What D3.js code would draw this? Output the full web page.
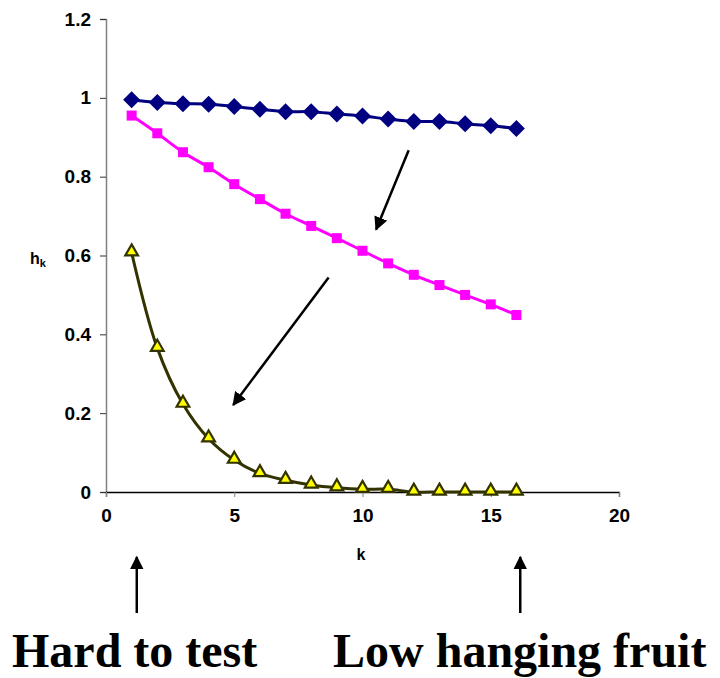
<!DOCTYPE html>
<html>
<head>
<meta charset="utf-8">
<script src="https://cdn.jsdelivr.net/npm/d3@7"></script>
<style>
  html, body { margin: 0; padding: 0; background: #fff; }
  svg { display: block; }
</style>
</head>
<body>
<script>
const kValues = [1,2,3,4,5,6,7,8,9,10,11,12,13,14,15,16];
const seriesBlue = [0.995,0.988,0.985,0.984,0.978,0.971,0.965,0.965,0.959,0.954,0.946,0.940,0.940,0.934,0.929,0.922];
const seriesPink = [0.955,0.910,0.862,0.824,0.781,0.743,0.706,0.675,0.644,0.612,0.580,0.551,0.525,0.500,0.476,0.449];
const seriesYellow = [0.607,0.365,0.223,0.135,0.081,0.047,0.030,0.018,0.011,0.007,0.007,0.000,0.000,0.000,0.000,0.000];
const xTicks = [0,5,10,15,20];
const yTicks = [0,0.2,0.4,0.6,0.8,1,1.2];
const yTickLabels = ["0","0.2","0.4","0.6","0.8","1","1.2"];
const xLabel = "k";
const yLabel = "h";
const yLabelSub = "k";
const bottomLeftText = "Hard to test";
const bottomRightText = "Low hanging fruit";
// annotation arrows in data coordinates [k, h]
const arrowsInPlot = [
  {from:[11.8, 0.867], to:[10.53, 0.666]},
  {from:[8.68, 0.544], to:[4.96, 0.221]}
];
const bottomArrowsK = [1.2, 16.15];

const W = 720, H = 678;
const svg = d3.select("body").append("svg").attr("width", W).attr("height", H);

const x = d3.scaleLinear().domain([0,20]).range([106,619]);
const y = d3.scaleLinear().domain([0,1.2]).range([492,19]);

const tickFont = "Arial, 'Liberation Sans', sans-serif";

// defs: arrow marker
const defs = svg.append("defs");
defs.append("marker").attr("id","ah").attr("viewBox","0 0 10 10")
  .attr("refX",9).attr("refY",5).attr("markerWidth",5.5).attr("markerHeight",5.5)
  .attr("markerUnits","strokeWidth").attr("orient","auto")
  .append("path").attr("d","M0,0 L10,5 L0,10 Z").attr("fill","#000");

// Y axis
const yAxis = d3.axisLeft(y).tickValues(yTicks).tickSize(6).tickFormat((d,i)=>yTickLabels[i]);
const gy = svg.append("g").attr("transform",`translate(${x(0)},0)`).call(yAxis);
gy.select(".domain").attr("stroke","#808080").attr("stroke-width",1.5);
gy.selectAll(".tick line").attr("stroke","#333");
gy.selectAll(".tick text").attr("font-family",tickFont).attr("font-weight","bold")
  .attr("font-size",19).attr("fill","#000").attr("x",-15);

// X axis
const xAxis = d3.axisBottom(x).tickValues(xTicks).tickSize(5);
const gx = svg.append("g").attr("transform",`translate(0,${y(0)})`).call(xAxis);
gx.select(".domain").attr("stroke","#000").attr("stroke-width",1.3);
gx.selectAll(".tick line").attr("stroke","#808080");
gx.selectAll(".tick text").attr("font-family",tickFont).attr("font-weight","bold")
  .attr("font-size",19).attr("fill","#000").attr("y",17);

// axis titles
svg.append("text").attr("x",361).attr("y",560).attr("text-anchor","middle")
  .attr("font-family",tickFont).attr("font-weight","bold").attr("font-size",16).text(xLabel);
const yl = svg.append("text").attr("x",30).attr("y",264)
  .attr("font-family",tickFont).attr("font-weight","bold").attr("font-size",16);
yl.append("tspan").text(yLabel);
yl.append("tspan").attr("font-size",11).attr("dy",3).text(yLabelSub);

// lines
const line = d3.line().curve(d3.curveCatmullRom.alpha(0.5)).x((d,i)=>x(kValues[i])).y(d=>y(d));

svg.append("path").datum(seriesBlue).attr("d",line).attr("fill","none")
  .attr("stroke","#000080").attr("stroke-width",3);
svg.append("path").datum(seriesPink).attr("d",line).attr("fill","none")
  .attr("stroke","#FF00FF").attr("stroke-width",3);
svg.append("path").datum(seriesYellow).attr("d",line).attr("fill","none")
  .attr("stroke","#333300").attr("stroke-width",3);

// markers
svg.append("g").selectAll("path").data(seriesBlue).join("path")
  .attr("d","M0,-8.5 L8.5,0 L0,8.5 L-8.5,0 Z")
  .attr("transform",(d,i)=>`translate(${x(kValues[i])},${y(d)})`)
  .attr("fill","#000080");
svg.append("g").selectAll("rect").data(seriesPink).join("rect")
  .attr("x",(d,i)=>x(kValues[i])-5).attr("y",d=>y(d)-5)
  .attr("width",10).attr("height",10).attr("fill","#FF00FF");
const tri = d3.symbol().type(d3.symbolTriangle).size(70);
svg.append("g").selectAll("path").data(seriesYellow).join("path")
  .attr("d",tri)
  .attr("transform",(d,i)=>`translate(${x(kValues[i])},${y(d)-1})`)
  .attr("fill","#FFFF00").attr("stroke","#333300").attr("stroke-width",2.2);

// arrows in plot
svg.append("g").selectAll("line").data(arrowsInPlot).join("line")
  .attr("x1",d=>x(d.from[0])).attr("y1",d=>y(d.from[1]))
  .attr("x2",d=>x(d.to[0])).attr("y2",d=>y(d.to[1]))
  .attr("stroke","#000").attr("stroke-width",2.5).attr("marker-end","url(#ah)");

// bottom arrows
svg.append("g").selectAll("line").data(bottomArrowsK).join("line")
  .attr("x1",d=>x(d)).attr("y1",613).attr("x2",d=>x(d)).attr("y2",557)
  .attr("stroke","#000").attr("stroke-width",2.5).attr("marker-end","url(#ah)");

// bottom texts
const serif = "'Times New Roman', 'Liberation Serif', serif";
svg.append("text").attr("x",12).attr("y",667).attr("font-family",serif)
  .attr("font-weight","bold").attr("font-size",48).text(bottomLeftText);
svg.append("text").attr("x",333).attr("y",667).attr("font-family",serif)
  .attr("font-weight","bold").attr("font-size",48).text(bottomRightText);
</script>
</body>
</html>
